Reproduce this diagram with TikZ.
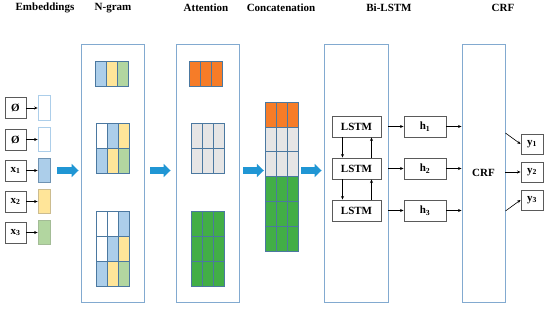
\documentclass[tikz,border=0pt]{standalone}
\usepackage{fontspec}
\setmainfont{Liberation Serif}
\usetikzlibrary{arrows.meta, positioning, calc}
\definecolor{PanelBlue}{RGB}{130, 170, 208}
\definecolor{ArrowBlue}{RGB}{32, 150, 212}
\definecolor{CellLine}{RGB}{75, 120, 160}
\definecolor{LightBlue}{RGB}{172, 206, 234}
\definecolor{LightYellow}{RGB}{255, 229, 153}
\definecolor{LightGreen}{RGB}{178, 214, 160}
\definecolor{AttOrange}{RGB}{246, 124, 40}
\definecolor{AttGrey}{RGB}{230, 229, 229}
\definecolor{AttGreen}{RGB}{66, 174, 70}
\definecolor{BoxGrey}{RGB}{90, 90, 90}
\begin{document}
\begin{tikzpicture}[x=1pt, y=-1pt,
  title/.style={font=\fontsize{11}{13}\selectfont\bfseries},
  panel/.style={draw=PanelBlue, line width=0.9pt, minimum width=63pt, minimum height=258pt, inner sep=0pt, font=\fontsize{11}{13}\selectfont\bfseries},
  tok/.style={draw=BoxGrey, line width=0.9pt, minimum width=21pt, minimum height=21pt, inner sep=0pt, font=\fontsize{11}{13}\selectfont\bfseries},
  vec/.style={line width=0.7pt, minimum width=12pt, minimum height=24.5pt, inner sep=0pt},
  box/.style={draw=BoxGrey, line width=0.9pt, minimum height=21pt, inner sep=0pt, font=\fontsize{11}{13}\selectfont\bfseries},
  cell/.style={draw=CellLine, line width=0.5pt},
  arr/.style={-{Stealth[length=3.5pt, width=3pt]}, line width=0.6pt},
  bigarr/.style={-{Triangle[length=7pt, width=13pt]}, draw=ArrowBlue, line width=6.5pt}]
\useasboundingbox (0,0) rectangle (550,311);
% titles
\node[title] (tEmb) at (45,8) {Embeddings};
\node[title] (tNgram) at (113,8) {N-gram};
\node[title] (tAtt) at (206,8) {Attention};
\node[title] (tCat) at (281,8) {Concatenation};
\node[title] (tLstm) at (389,8) {Bi-LSTM};
\node[title] (tCrf) at (503,8) {CRF};
% embeddings
\node[tok] (e0) at (15.5,108) {Ø};
\node[tok] (e1) at (15.5,139.5) {Ø};
\node[tok] (e2) at (15.5,170.5) {x\textsubscript{1}};
\node[tok] (e3) at (15.5,201.5) {x\textsubscript{2}};
\node[tok] (e4) at (15.5,232.5) {x\textsubscript{3}};
\node[vec, draw=LightBlue, fill=white] (v0) at (44,108) {};
\node[vec, draw=LightBlue, fill=white] (v1) at (44,139.5) {};
\node[vec, draw=CellLine!80, fill=LightBlue] (v2) at (44,170.5) {};
\node[vec, draw=LightYellow!60!gray, fill=LightYellow] (v3) at (44,201.5) {};
\node[vec, draw=LightGreen!70!gray, fill=LightGreen] (v4) at (44,232.5) {};
\draw[arr] (e0) -- (v0); \draw[arr] (e1) -- (v1); \draw[arr] (e2) -- (v2); \draw[arr] (e3) -- (v3); \draw[arr] (e4) -- (v4);
% panels
\node[panel] (ngram) at (112.5,173) {};
\node[panel] (att) at (207.5,173) {};
\node[inner sep=0pt, minimum width=33pt, minimum height=149pt] (concat) at (281.5,176.5) {};
\node[panel, minimum width=64pt] (bilstm) at (356,173) {};
\node[panel, minimum width=43pt] (crf) at (483.5,173) {CRF};
% n-gram grids
\foreach \c/\r/\col in {0/0/LightBlue, 1/0/LightYellow, 2/0/LightGreen}
  \draw[cell, fill=\col] (95+11*\c, 61+25*\r) rectangle ++(11,25);
\foreach \c/\r/\col in {0/0/white, 1/0/LightBlue, 2/0/LightYellow, 0/1/LightBlue, 1/1/LightYellow, 2/1/LightGreen}
  \draw[cell, fill=\col] (96+11*\c, 123+25*\r) rectangle ++(11,25);
\foreach \c/\r/\col in {0/0/white, 1/0/white, 2/0/LightBlue, 0/1/white, 1/1/LightBlue, 2/1/LightYellow, 0/2/LightBlue, 1/2/LightYellow, 2/2/LightGreen}
  \draw[cell, fill=\col] (96+11*\c, 211+25*\r) rectangle ++(11,25);
% attention grids
\foreach \c in {0,1,2} {
  \draw[cell, fill=AttOrange] (189+11*\c, 61) rectangle ++(11,25);
  \foreach \r in {0,1} \draw[cell, fill=AttGrey] (191+11*\c, 123+25*\r) rectangle ++(11,25);
  \foreach \r in {0,1,2} \draw[cell, fill=AttGreen] (191+11*\c, 211+25*\r) rectangle ++(11,25);
}
% concatenation
\foreach \c in {0,1,2} \foreach \r/\col in {0/AttOrange, 1/AttGrey, 2/AttGrey, 3/AttGreen, 4/AttGreen, 5/AttGreen}
  \draw[cell, fill=\col] (265+11*\c, 102+24.833*\r) rectangle ++(11,24.833);
% big arrows
\draw[bigarr, shorten <=7pt, shorten >=2pt] (v2.east) -- (ngram.west |- v2.east);
\draw[bigarr, shorten <=6pt, shorten >=5pt] (ngram.east |- v2.east) -- (att.west |- v2.east);
\draw[bigarr, shorten <=4pt, shorten >=1pt] (att.east |- v2.east) -- (concat.west |- v2.east);
\draw[bigarr, shorten <=3pt, shorten >=2pt] (concat.east |- v2.east) -- (bilstm.west |- v2.east);
% bi-lstm
\node[box, minimum width=49pt] (l1) at (356.5,126.5) {LSTM};
\node[box, minimum width=49pt] (l2) at (356.5,168.5) {LSTM};
\node[box, minimum width=49pt] (l3) at (356.5,210.5) {LSTM};
\draw[arr] ([xshift=-14pt]l1.south) -- ([xshift=-14pt]l2.north);
\draw[arr] ([xshift=15pt]l2.north) -- ([xshift=15pt]l1.south);
\draw[arr] ([xshift=-14pt]l2.south) -- ([xshift=-14pt]l3.north);
\draw[arr] ([xshift=15pt]l3.north) -- ([xshift=15pt]l2.south);
\node[box, minimum width=42pt] (h1) at (425,126.5) {h\textsubscript{1}};
\node[box, minimum width=42pt] (h2) at (425,168.5) {h\textsubscript{2}};
\node[box, minimum width=42pt] (h3) at (425,210.5) {h\textsubscript{3}};
\draw[arr] (bilstm.east |- h1) -- (h1); \draw[arr] (bilstm.east |- h2) -- (h2); \draw[arr] (bilstm.east |- h3) -- (h3);
\draw[arr] (h1) -- (crf.west |- h1); \draw[arr] (h2) -- (crf.west |- h2); \draw[arr] (h3) -- (crf.west |- h3);
% crf outputs
\node[box, minimum width=22pt, minimum height=20pt] (y1) at (532,144) {y\textsubscript{1}};
\node[box, minimum width=22pt, minimum height=20pt] (y2) at (532,172) {y\textsubscript{2}};
\node[box, minimum width=22pt, minimum height=20pt] (y3) at (532,200) {y\textsubscript{3}};
\draw[arr] ($(crf.east |- y1)+(0,-11)$) -- (y1.west);
\draw[arr] (crf.east |- y2) -- (y2);
\draw[arr] ($(crf.east |- y3)+(0,11)$) -- (y3.west);
\end{tikzpicture}
\end{document}
